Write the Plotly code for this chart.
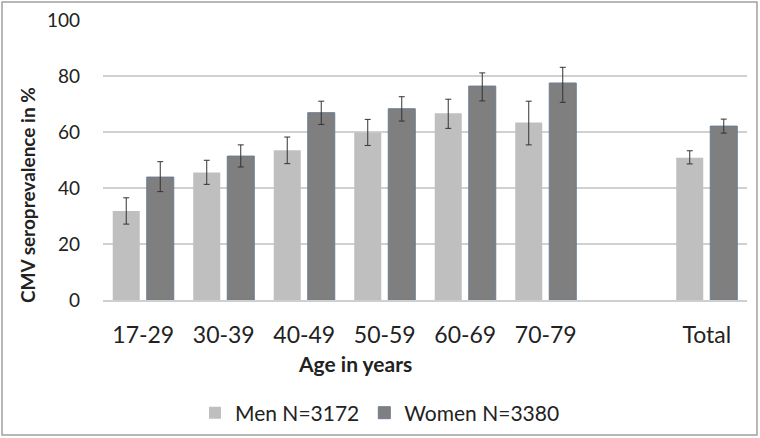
import plotly.graph_objects as go

categories = ["17-29", "30-39", "40-49", "50-59", "60-69", "70-79", " ", "Total"]
men = [31.8, 45.5, 53.5, 59.8, 66.7, 63.4, None, 50.8]
men_err_plus = [4.7, 4.4, 4.7, 4.7, 5.0, 7.6, None, 2.5]
men_err_minus = [4.7, 4.2, 4.8, 4.6, 5.4, 8.0, None, 2.2]
women = [43.9, 51.4, 66.9, 68.3, 76.4, 77.5, None, 62.1]
women_err_plus = [5.5, 4.0, 4.1, 4.3, 4.7, 5.6, None, 2.5]
women_err_minus = [5.2, 3.9, 4.2, 4.4, 5.3, 6.9, None, 2.5]
y_ticks = [0, 20, 40, 60, 80, 100]

FONT = "Lato, 'Liberation Sans', sans-serif"

fig = go.Figure()
fig.add_trace(go.Bar(
    x=categories, y=men, name="Men N=3172",
    marker=dict(color="#bfbfbf", line=dict(width=0)),
    error_y=dict(type="data", symmetric=False, array=men_err_plus,
                 arrayminus=men_err_minus, color="#333333", thickness=1, width=3),
))
fig.add_trace(go.Bar(
    x=categories, y=women, name="Women N=3380",
    marker=dict(color="#7f7f7f", line=dict(width=1, color="#6b7d96")),
    error_y=dict(type="data", symmetric=False, array=women_err_plus,
                 arrayminus=women_err_minus, color="#333333", thickness=1, width=3),
))

fig.update_layout(
    width=760, height=438,
    margin=dict(l=103, r=13, t=20, b=138, autoexpand=False),
    paper_bgcolor="white", plot_bgcolor="white",
    barmode="group", bargap=0.155, bargroupgap=0.206,
    font=dict(family=FONT, color="#222222"),
    showlegend=True,
    legend=dict(orientation="h", x=0.5, xanchor="center", xref="container",
                y=0.057, yanchor="middle", yref="container",
                font=dict(size=21, family=FONT, color="#222222"),
                traceorder="normal"),
    xaxis=dict(type="category", categoryorder="array", categoryarray=categories,
               tickfont=dict(size=23, family=FONT, color="#222222"),
               ticks="", ticklabelstandoff=14, automargin=False,
               showline=True, linecolor="#cfcfcf", linewidth=1.5,
               showgrid=False, zeroline=False),
    yaxis=dict(range=[0, 100], tickvals=y_ticks,
               tickfont=dict(size=19, family=FONT, color="#222222"),
               ticks="", ticklabelstandoff=22, automargin=False,
               showgrid=True, gridcolor="#d0d0d0", gridwidth=1.5,
               zeroline=False, showline=False),
    annotations=[
        dict(text="<b>Age in years</b>", xref="paper", yref="paper",
             x=0.391, y=-0.225, xanchor="center", yanchor="middle", showarrow=False,
             font=dict(size=21, family=FONT, color="#222222")),
        dict(text="<b>CMV seroprevalence in %</b>", xref="paper", yref="paper",
             x=-0.118, y=0.375, xanchor="center", yanchor="middle", showarrow=False,
             textangle=-90, font=dict(size=19, family=FONT, color="#222222")),
    ],
    shapes=[dict(type="rect", xref="paper", yref="paper",
                 x0=-0.1568, x1=1.0155, y0=-0.482, y1=1.064,
                 line=dict(color="#a0a0a0", width=1.5), fillcolor="rgba(0,0,0,0)")],
)

fig.write_html("out.html", config={"displayModeBar": False})

with open("out.html", "r", encoding="utf-8") as f:
    html = f.read()
html = html.replace("<head>", "<head><style>html,body{margin:0;padding:0;overflow:hidden;}</style>", 1)
with open("out.html", "w", encoding="utf-8") as f:
    f.write(html)
